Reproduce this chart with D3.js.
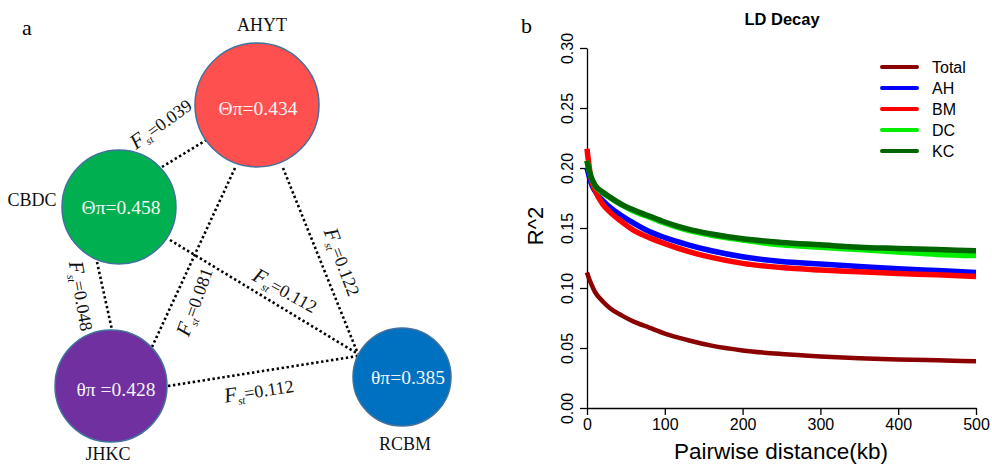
<!DOCTYPE html>
<html>
<head>
<meta charset="utf-8">
<script src="https://cdn.jsdelivr.net/npm/d3@7"></script>
<style>
html,body{margin:0;padding:0;background:#fff;}
svg{display:block;}
</style>
</head>
<body>
<svg id="chart" width="992" height="464"></svg>
<script>
// ---------------- DATA ----------------
// Panel a: populations, nucleotide diversity, pairwise Fst
const populations = ["AHYT", "CBDC", "JHKC", "RCBM"];
const piSymbols = ["Θπ", "Θπ", "θπ ", "θπ"];
const piValues = [0.434, 0.458, 0.428, 0.385];
const fstPairs = [["CBDC","AHYT"],["AHYT","JHKC"],["AHYT","RCBM"],["CBDC","RCBM"],["CBDC","JHKC"],["JHKC","RCBM"]];
const fstValues = [0.039, 0.081, 0.122, 0.112, 0.048, 0.112];

// Panel b: LD decay
const distances = [0, 2, 5, 10, 20, 30, 45, 60, 80, 100, 130, 160, 200, 250, 300, 350, 400, 450, 500];
const seriesNames = ["Total", "AH", "BM", "DC", "KC"];
const totalR2 = [0.113, 0.109, 0.104, 0.097, 0.089, 0.083, 0.077, 0.072, 0.067, 0.062, 0.0565, 0.052, 0.048, 0.045, 0.043, 0.0415, 0.0405, 0.0397, 0.039];
const ahR2    = [0.200, 0.195, 0.188, 0.181, 0.173, 0.167, 0.160, 0.154, 0.147, 0.142, 0.136, 0.131, 0.126, 0.122, 0.120, 0.118, 0.116, 0.1145, 0.113];
const bmR2    = [0.216, 0.205, 0.192, 0.182, 0.170, 0.163, 0.155, 0.148, 0.142, 0.137, 0.1305, 0.1255, 0.1205, 0.117, 0.115, 0.1135, 0.112, 0.111, 0.1095];
const dcR2    = [0.206, 0.200, 0.193, 0.1855, 0.1795, 0.175, 0.169, 0.164, 0.159, 0.154, 0.148, 0.144, 0.140, 0.136, 0.134, 0.132, 0.130, 0.128, 0.127];
const kcR2    = [0.206, 0.200, 0.193, 0.186, 0.180, 0.1755, 0.1695, 0.165, 0.160, 0.155, 0.149, 0.145, 0.141, 0.138, 0.136, 0.134, 0.133, 0.132, 0.131];
const xTicks = [0, 100, 200, 300, 400, 500];
const yTicks = [0.00, 0.05, 0.10, 0.15, 0.20, 0.25, 0.30];

// ---------------- STYLE / LAYOUT ----------------
const svg = d3.select("#chart");
const serif = "'Liberation Serif','Times New Roman',serif";
const sans = "'Liberation Sans',Arial,Helvetica,sans-serif";

const nodeLayout = {
  AHYT: {cx:257, cy:105, r:62, fill:"#FF5050", lx:262, ly:31, tx:258, ty:108},
  CBDC: {cx:119, cy:207, r:57, fill:"#00B050", lx:32,  ly:206, tx:121, ty:207},
  JHKC: {cx:111, cy:386, r:56, fill:"#7030A0", lx:108, ly:460, tx:116, ty:389},
  RCBM: {cx:402, cy:377, r:49, fill:"#0070C0", lx:405, ly:450, tx:408, ty:377}
};
const edgeLayout = [
  {x1:162, y1:167, x2:208, y2:139, lx:161, ly:124, a:-36},
  {x1:235, y1:168, x2:152, y2:347, lx:195, ly:302, a:-70},
  {x1:283, y1:168, x2:358, y2:354, lx:342, ly:262, a:69},
  {x1:170, y1:240, x2:358, y2:354, lx:285, ly:291, a:29},
  {x1:97,  y1:262, x2:112, y2:330, lx:81,  ly:296, a:80},
  {x1:168, y1:386, x2:358, y2:356, lx:259, ly:391, a:-9}
];
const seriesColors = ["#8B0000", "#0000FF", "#FF0000", "#00EE00", "#006400"];
const seriesWidths = [4.5, 5.5, 5.5, 5.5, 5.5];

// ---------------- PANEL A ----------------
const pa = svg.append("g");
pa.append("text").attr("x", 22).attr("y", 35).attr("font-family", serif).attr("font-size", 22).text("a");

// edges
pa.selectAll("line.edge").data(fstPairs).join("line")
  .attr("class", "edge")
  .attr("x1", (d,i) => edgeLayout[i].x1).attr("y1", (d,i) => edgeLayout[i].y1)
  .attr("x2", (d,i) => edgeLayout[i].x2).attr("y2", (d,i) => edgeLayout[i].y2)
  .attr("stroke", "#000").attr("stroke-width", 2.6).attr("stroke-dasharray", "2.4 2.6");

// Fst labels
const fl = pa.selectAll("text.fst").data(fstValues).join("text")
  .attr("class", "fst")
  .attr("transform", (d,i) => `translate(${edgeLayout[i].lx},${edgeLayout[i].ly}) rotate(${edgeLayout[i].a})`)
  .attr("text-anchor", "middle").attr("dy", "0.35em")
  .attr("font-family", serif).attr("font-size", 18).attr("fill", "#111");
fl.append("tspan").attr("font-style", "italic").attr("font-size", 21).text("F");
fl.append("tspan").attr("font-style", "italic").attr("font-size", 11).attr("dy", 4).text("st");
fl.append("tspan").attr("dy", -4).text(d => "=" + d3.format(".3f")(d));

// nodes
const ng = pa.selectAll("g.node").data(populations).join("g").attr("class", "node");
ng.append("circle")
  .attr("cx", d => nodeLayout[d].cx).attr("cy", d => nodeLayout[d].cy).attr("r", d => nodeLayout[d].r)
  .attr("fill", d => nodeLayout[d].fill).attr("stroke", "#41719C").attr("stroke-width", 1.5);
ng.append("text")
  .attr("x", d => nodeLayout[d].tx).attr("y", d => nodeLayout[d].ty).attr("dy", "0.35em")
  .attr("text-anchor", "middle").attr("font-family", serif).attr("font-size", 19.5).attr("fill", "#f4f4f4")
  .text((d,i) => piSymbols[i] + "=" + d3.format(".3f")(piValues[i]));
ng.append("text")
  .attr("x", d => nodeLayout[d].lx).attr("y", d => nodeLayout[d].ly)
  .attr("text-anchor", "middle").attr("font-family", serif).attr("font-size", 18).attr("fill", "#111")
  .text(d => d);

// ---------------- PANEL B ----------------
const pb = svg.append("g");
pb.append("text").attr("x", 521).attr("y", 33).attr("font-family", serif).attr("font-size", 22).text("b");

const x = d3.scaleLinear().domain([0, 500]).range([587, 976]);
const y = d3.scaleLinear().domain([0, 0.30]).range([408, 48]);

const xAxis = pb.append("g").attr("transform", `translate(0,${y(0)})`)
  .call(d3.axisBottom(x).tickValues(xTicks).tickSize(7).tickSizeOuter(0).tickPadding(4).tickFormat(d3.format("d")));
xAxis.selectAll("text").attr("font-family", sans).attr("font-size", 16).attr("fill", "#000");

const yAxis = pb.append("g").attr("transform", `translate(${x(0)},0)`)
  .call(d3.axisLeft(y).tickValues(yTicks).tickSize(7).tickSizeOuter(0).tickFormat(d3.format(".2f")));
yAxis.selectAll("text")
  .attr("font-family", sans).attr("font-size", 16).attr("fill", "#000")
  .attr("x", null).attr("dy", null).attr("y", null)
  .attr("text-anchor", "middle")
  .attr("transform", "translate(-14,0) rotate(-90)");
pb.selectAll(".domain, .tick line").attr("stroke", "#000").attr("stroke-width", 1.3);

const allSeries = [totalR2, ahR2, bmR2, dcR2, kcR2];
const line = d3.line().x((d,i) => x(distances[i])).y(d => y(d)).curve(d3.curveMonotoneX);
pb.selectAll("path.series").data(allSeries).join("path")
  .attr("class", "series")
  .attr("d", d => line(d))
  .attr("fill", "none")
  .attr("stroke", (d,i) => seriesColors[i])
  .attr("stroke-width", (d,i) => seriesWidths[i])
  .attr("stroke-linejoin", "round");

// titles
pb.append("text").attr("x", 782).attr("y", 25).attr("text-anchor", "middle")
  .attr("font-family", sans).attr("font-weight", "bold").attr("font-size", 16.5).text("LD Decay");
pb.append("text").attr("x", 781).attr("y", 459).attr("text-anchor", "middle")
  .attr("font-family", sans).attr("font-size", 22.5).text("Pairwise distance(kb)");
pb.append("text").attr("transform", "translate(543,226) rotate(-90)").attr("text-anchor", "middle")
  .attr("font-family", sans).attr("font-size", 22).text("R^2");

// legend
const lg = pb.selectAll("g.leg").data(seriesNames).join("g").attr("class", "leg")
  .attr("transform", (d,i) => `translate(882,${67 + i * 21})`);
lg.append("line").attr("x1", 0).attr("x2", 35).attr("y1", 0).attr("y2", 0)
  .attr("stroke", (d,i) => seriesColors[i]).attr("stroke-width", 4).attr("stroke-linecap", "round");
lg.append("text").attr("x", 50).attr("y", 0).attr("dy", "0.36em")
  .attr("font-family", sans).attr("font-size", 16).text(d => d);
</script>
</body>
</html>
